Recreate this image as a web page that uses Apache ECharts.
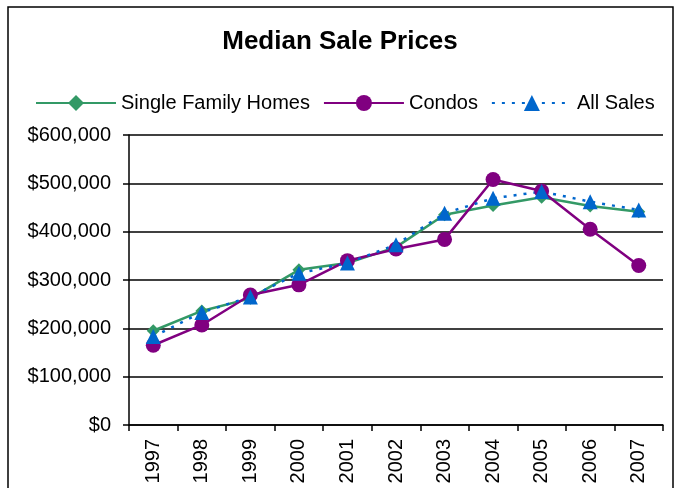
<!DOCTYPE html>
<html>
<head>
<meta charset="utf-8">
<script src="https://cdn.jsdelivr.net/npm/echarts@6/dist/echarts.min.js"></script>
<style>
html, body { margin: 0; padding: 0; background: #fff; }
#chart { width: 680px; height: 488px; }
</style>
</head>
<body>
<div id="chart"></div>
<script type="text/javascript">
var years = ['1997', '1998', '1999', '2000', '2001', '2002', '2003', '2004', '2005', '2006', '2007'];
var singleFamily = [195000, 236000, 262000, 321000, 335000, 368000, 435000, 454000, 471000, 453000, 441000];
var condos = [165000, 207000, 269000, 290000, 340000, 364000, 384000, 508000, 484000, 405000, 330000];
var allSales = [183000, 233000, 265000, 314000, 335000, 373000, 438000, 469000, 483000, 462000, 445000];

var font = '"Liberation Sans", Arial, sans-serif';

function money(v) {
    return '$' + String(v).replace(/\B(?=(\d{3})+(?!\d))/g, ',');
}

var myChart = echarts.init(document.getElementById('chart'));
var option = {
    animation: false,
    backgroundColor: '#fff',
    graphic: [{
        type: 'rect',
        shape: { x: 8, y: 7, width: 665, height: 500 },
        style: { fill: 'none', stroke: '#000', lineWidth: 1.5 },
        silent: true
    }],
    title: {
        text: 'Median Sale Prices',
        left: 'center',
        top: 24,
        textStyle: { fontFamily: font, fontSize: 26, fontWeight: 'bold', color: '#000' }
    },
    legend: {
        left: 30,
        top: 88,
        itemWidth: 80,
        itemHeight: 20,
        itemGap: 13,
        textStyle: { fontFamily: font, fontSize: 20, color: '#000' },
        data: ['Single Family Homes', 'Condos', 'All Sales']
    },
    grid: { left: 129, right: 17, top: 135, bottom: 63 },
    xAxis: {
        type: 'category',
        data: years,
        boundaryGap: true,
        axisLine: { lineStyle: { color: '#000', width: 1.5 } },
        axisTick: { show: true, length: 6, lineStyle: { color: '#000', width: 1.5 } },
        axisLabel: { rotate: 90, margin: 14, fontFamily: font, fontSize: 20, color: '#000' }
    },
    yAxis: {
        type: 'value',
        min: 0,
        max: 600000,
        interval: 100000,
        axisLine: { show: true, lineStyle: { color: '#000', width: 1.5 } },
        axisTick: { show: true, length: 6, lineStyle: { color: '#000', width: 1.5 } },
        splitLine: { lineStyle: { color: '#000', width: 1.5 } },
        axisLabel: { margin: 18, fontFamily: font, fontSize: 20, color: '#000', formatter: money }
    },
    series: [{
        name: 'Single Family Homes',
        type: 'line',
        data: singleFamily,
        symbol: 'diamond',
        symbolSize: 13,
        itemStyle: { color: '#339966' },
        lineStyle: { color: '#339966', width: 2.5 }
    }, {
        name: 'Condos',
        type: 'line',
        data: condos,
        symbol: 'circle',
        symbolSize: 15,
        itemStyle: { color: '#800080' },
        lineStyle: { color: '#800080', width: 2.5 }
    }, {
        name: 'All Sales',
        type: 'line',
        data: allSales,
        symbol: 'triangle',
        symbolSize: 15,
        itemStyle: { color: '#0066CC' },
        lineStyle: { color: '#0066CC', width: 2.5, type: [3, 7] }
    }]
};
myChart.setOption(option);
</script>
</body>
</html>
